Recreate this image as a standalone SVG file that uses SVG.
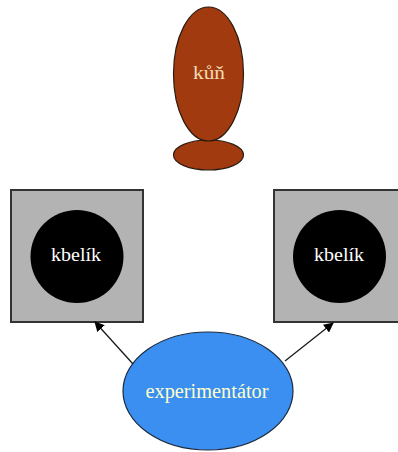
<svg xmlns="http://www.w3.org/2000/svg" width="398" height="452" viewBox="0 0 398 452">
  <style>
    .lbl { font-family: "Liberation Serif", "DejaVu Serif", serif; text-anchor: middle; }
    .horse { fill: #a13a0e; stroke: #2a1a10; stroke-width: 1.2; }
    .box { fill: #b3b3b3; stroke: #333333; stroke-width: 2; }
    .bucket { fill: #000000; }
    .edge { stroke: #1a1a1a; stroke-width: 1.3; fill: none; marker-end: url(#head); }
  </style>
  <defs>
    <marker id="head" viewBox="0 0 10 10" refX="9" refY="5" markerWidth="10" markerHeight="10" markerUnits="userSpaceOnUse" orient="auto">
      <path d="M0,0 L10,5 L0,10 Z" fill="#000000"/>
    </marker>
  </defs>
  <rect width="398" height="452" fill="#ffffff"/>

  <g id="kun">
    <ellipse class="horse" cx="208.5" cy="155" rx="35" ry="15"/>
    <ellipse class="horse" cx="208.5" cy="74" rx="35" ry="67"/>
    <text class="lbl" x="209" y="79" font-size="19" fill="#f3dcb4" textLength="32" lengthAdjust="spacingAndGlyphs">kůň</text>
  </g>

  <g id="kbelik-left">
    <rect class="box" x="11" y="190" width="132" height="132"/>
    <circle class="bucket" cx="77" cy="256.5" r="46.5"/>
    <text class="lbl" x="76" y="261" font-size="18" fill="#ffffff" textLength="50" lengthAdjust="spacingAndGlyphs">kbelík</text>
  </g>

  <g id="kbelik-right">
    <rect class="box" x="274" y="190" width="132" height="132"/>
    <circle class="bucket" cx="339.5" cy="256.5" r="46.5"/>
    <text class="lbl" x="339" y="261" font-size="18" fill="#ffffff" textLength="50" lengthAdjust="spacingAndGlyphs">kbelík</text>
  </g>

  <g id="experimentator">
    <ellipse cx="208" cy="391" rx="85" ry="59" fill="#3a8ff0" stroke="#1a2a40" stroke-width="1.2"/>
    <text class="lbl" x="207" y="398" font-size="20" fill="#ffffcc" textLength="123" lengthAdjust="spacingAndGlyphs">experimentátor</text>
  </g>

  <g id="connectors">
    <line class="edge" x1="133" y1="364" x2="95" y2="322"/>
    <line class="edge" x1="285" y1="361" x2="333" y2="323"/>
  </g>
</svg>
